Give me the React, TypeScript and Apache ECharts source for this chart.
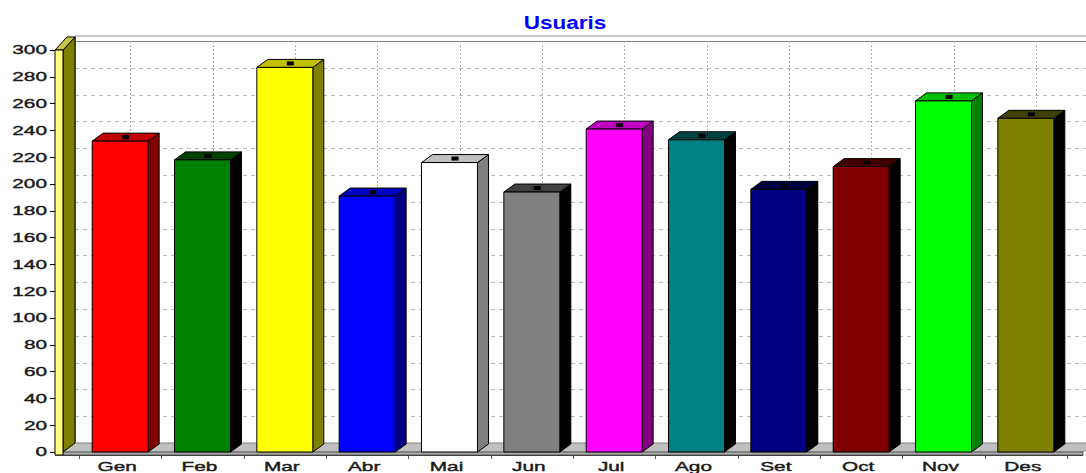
import React, { useEffect, useRef } from 'react';
import * as echarts from 'echarts';

const categories = ['Gen', 'Feb', 'Mar', 'Abr', 'Mai', 'Jun', 'Jul', 'Ago', 'Set', 'Oct', 'Nov', 'Des'];
const users = [232, 218, 287, 191, 216, 194, 241, 233, 196, 213, 262, 249];
const yTickValues = [0, 20, 40, 60, 80, 100, 120, 140, 160, 180, 200, 220, 240, 260, 280, 300];
const chartTitle = 'Usuaris';

const frontColors = ['#FF0000', '#008000', '#FFFF00', '#0000FF', '#FFFFFF', '#808080', '#FF00FF', '#008080', '#000080', '#800000', '#00FF00', '#808000'];
const topColors = ['#C00000', '#004000', '#C0C000', '#0000C0', '#C0C0C0', '#404040', '#C000C0', '#004040', '#000040', '#400000', '#00C000', '#404000'];
const sideColors = ['#800000', '#000000', '#808000', '#000080', '#808080', '#000000', '#800080', '#000000', '#000000', '#000000', '#008000', '#000000'];

const BAR_DX = 11;
const BAR_DY = -8;
const WALL_DX = 12;
const WALL_DY = -9;
const FONT = '"Liberation Sans", Arial, sans-serif';
const TEXT_STRETCH = 1.6;

export default function App() {
  const ref = useRef<HTMLDivElement>(null);

  useEffect(() => {
    const chart = echarts.init(ref.current!, null, { renderer: 'svg' });

    const backgroundRender = (params: any, api: any) => {
      const cs = params.coordSys;
      const xL = cs.x;
      const xR = cs.x + cs.width;
      const yT = cs.y;
      const yB = cs.y + cs.height;
      const fx0 = xL - 16;
      const fx1 = xR + 16;
      const bx0 = fx0 + WALL_DX;
      const bx1 = 1110;
      const children: any[] = [];
      children.push({
        type: 'line',
        shape: { x1: bx0, y1: yT + WALL_DY - 5, x2: bx1, y2: yT + WALL_DY - 5 },
        style: { stroke: '#c8c8c8', lineWidth: 2 },
      });
      yTickValues.forEach((v, idx) => {
        if (v === 0) return;
        const y = Math.round(api.coord([0, v])[1] + WALL_DY) + 0.5;
        const isTop = idx === yTickValues.length - 1;
        children.push({
          type: 'line',
          shape: { x1: bx0, y1: y, x2: bx1, y2: y },
          style: isTop
            ? { stroke: '#808080', lineWidth: 1 }
            : { stroke: '#b8b8b8', lineWidth: 1, lineDash: [4, 4] },
        });
      });
      categories.forEach((_, i) => {
        const x = Math.round(api.coord([i, 0])[0] + WALL_DX - 2) + 0.5;
        children.push({
          type: 'line',
          shape: { x1: x, y1: yT + WALL_DY, x2: x, y2: yB + WALL_DY },
          style: { stroke: '#b0b0b0', lineWidth: 1, lineDash: [2, 2] },
        });
      });
      children.push({
        type: 'line',
        shape: { x1: bx0 + 0.5, y1: yT + WALL_DY - 5, x2: bx0 + 0.5, y2: yB + WALL_DY },
        style: { stroke: '#808080', lineWidth: 1 },
      });
      children.push({
        type: 'polygon',
        shape: { points: [[fx0, yB], [fx1, yB], [fx1 + WALL_DX, yB + WALL_DY], [bx0, yB + WALL_DY]] },
        style: { fill: '#c0c0c0', stroke: '#808080', lineWidth: 1 },
      });
      children.push({
        type: 'rect',
        shape: { x: fx0, y: yB, width: fx1 - fx0, height: 3 },
        style: { fill: '#a8a8a8', stroke: '#606060', lineWidth: 1 },
      });
      children.push({
        type: 'polygon',
        shape: { points: [[fx0, yT], [bx0, yT + WALL_DY - 4], [bx0, yB + WALL_DY], [fx0, yB]] },
        style: { fill: '#808000', stroke: '#000', lineWidth: 1 },
      });
      children.push({
        type: 'polygon',
        shape: { points: [[fx0 - 8, yT], [fx0, yT], [bx0, yT + WALL_DY - 4], [bx0 - 8, yT + WALL_DY - 4]] },
        style: { fill: '#c8c840', stroke: '#000', lineWidth: 1 },
      });
      children.push({
        type: 'rect',
        shape: { x: fx0 - 8, y: yT, width: 8, height: yB - yT + 3 },
        style: { fill: '#ffff80', stroke: '#000', lineWidth: 1 },
      });
      children.push({
        type: 'line',
        shape: { x1: fx0 - 8, y1: yB + 3.5, x2: fx1, y2: yB + 3.5 },
        style: { stroke: '#404040', lineWidth: 1 },
      });
      for (let i = 0; i <= categories.length; i++) {
        const x = Math.round(api.coord([i, 0])[0] - api.size([1, 0])[0] / 2) + 0.5;
        children.push({
          type: 'line',
          shape: { x1: x, y1: yB + 3.5, x2: x, y2: yB + 7 },
          style: { stroke: '#606060', lineWidth: 1 },
        });
      }
      return { type: 'group', children };
    };

    const barRender = (params: any, api: any) => {
      const i = api.value(0);
      const v = api.value(1);
      const [cx, yTop] = api.coord([i, v]);
      const yBase = api.coord([i, 0])[1];
      const w = api.size([1, 0])[0] * 0.68;
      const x0 = cx - w / 2;
      const x1 = cx + w / 2;
      return {
        type: 'group',
        children: [
          {
            type: 'polygon',
            shape: { points: [[x1, yTop], [x1 + BAR_DX, yTop + BAR_DY], [x1 + BAR_DX, yBase + BAR_DY], [x1, yBase]] },
            style: { fill: sideColors[i], stroke: '#000', lineWidth: 1 },
          },
          {
            type: 'polygon',
            shape: { points: [[x0, yTop], [x0 + BAR_DX, yTop + BAR_DY], [x1 + BAR_DX, yTop + BAR_DY], [x1, yTop]] },
            style: { fill: topColors[i], stroke: '#000', lineWidth: 1 },
          },
          {
            type: 'rect',
            shape: { x: x0, y: yTop, width: w, height: yBase - yTop },
            style: { fill: frontColors[i], stroke: '#000', lineWidth: 1 },
          },
          {
            type: 'rect',
            shape: { x: cx + BAR_DX / 2 - 3.5, y: yTop + BAR_DY / 2 - 2, width: 7, height: 4 },
            style: { fill: '#000' },
          },
        ],
      };
    };

    const yLabelRender = (params: any, api: any) => {
      const v = api.value(1);
      const y = api.coord([0, v])[1];
      return {
        type: 'text',
        x: params.coordSys.x - 32,
        y: y,
        scaleX: TEXT_STRETCH,
        style: {
          text: String(v),
          fill: '#1a1a1a',
          stroke: '#1a1a1a',
          lineWidth: 0.4,
          fontSize: 13,
          fontFamily: FONT,
          align: 'right',
          verticalAlign: 'middle',
        },
      };
    };

    const xLabelRender = (params: any, api: any) => {
      const i = api.value(0);
      const [cx] = api.coord([i, 0]);
      return {
        type: 'text',
        x: cx - 3,
        y: params.coordSys.y + params.coordSys.height + 8,
        scaleX: TEXT_STRETCH,
        style: {
          text: categories[i],
          fill: '#1a1a1a',
          stroke: '#1a1a1a',
          lineWidth: 0.4,
          fontSize: 13,
          fontFamily: FONT,
          align: 'center',
          verticalAlign: 'top',
        },
      };
    };

    const option: any = {
      animation: false,
      backgroundColor: '#ffffff',
      grid: { left: 79, right: 19, top: 50, bottom: 21, containLabel: false },
      xAxis: {
        type: 'category',
        data: categories,
        boundaryGap: true,
        axisLine: { show: false },
        axisTick: { show: false },
        axisLabel: { show: false },
        splitLine: { show: false },
      },
      yAxis: {
        type: 'value',
        min: 0,
        max: 300,
        interval: 20,
        offset: 24,
        axisLine: { show: true, lineStyle: { color: '#000', width: 1 } },
        axisTick: { show: true, length: 5, lineStyle: { color: '#000' } },
        axisLabel: { show: false },
        splitLine: { show: false },
      },
      graphic: [
        {
          type: 'text',
          x: 565,
          y: 23,
          scaleX: 1.25,
          style: {
            text: chartTitle,
            fill: '#0000FF',
            fontSize: 18,
            fontWeight: 'bold',
            fontFamily: FONT,
            align: 'center',
            verticalAlign: 'middle',
          },
        },
      ],
      series: [
        { type: 'custom', name: 'bg', renderItem: backgroundRender, data: [[0, 0]], z: 1, silent: true },
        {
          type: 'custom',
          name: chartTitle,
          renderItem: barRender,
          data: users.map((v, i) => [i, v]),
          encode: { x: 0, y: 1 },
          z: 3,
        },
        { type: 'custom', name: 'ylabels', renderItem: yLabelRender, data: yTickValues.map((v) => [0, v]), z: 4, silent: true },
        { type: 'custom', name: 'xlabels', renderItem: xLabelRender, data: categories.map((_, i) => [i, 0]), z: 4, silent: true },
      ],
    };

    chart.setOption(option);
    return () => chart.dispose();
  }, []);

  return (
    <div
      ref={ref}
      style={{ position: 'absolute', left: 0, top: 0, width: 1086, height: 473, background: '#fff' }}
    />
  );
}
